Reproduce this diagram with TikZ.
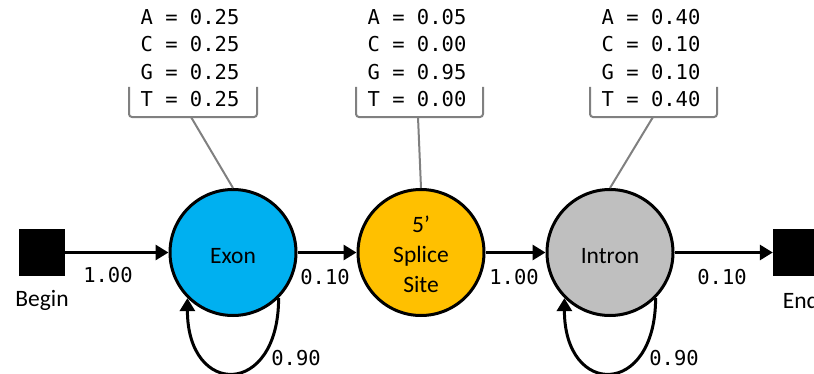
\documentclass[tikz,border=0pt]{standalone}
\usepackage{fontspec}
\setmainfont{Carlito}
\newfontfamily\mono{DejaVu Sans Mono}
\usetikzlibrary{arrows.meta}
\definecolor{exblue}{HTML}{00B0F0}
\definecolor{spyellow}{HTML}{FFC000}
\definecolor{ingray}{HTML}{BFBFBF}
\definecolor{lngray}{HTML}{808080}
\newcommand{\lowtext}[1]{\raisebox{-3.5pt}[\height][\depth]{#1}}
\tikzset{
  state/.style={circle,draw=black,line width=3pt,minimum size=126pt,inner sep=0pt,
    font=\fontsize{23.5}{30}\selectfont},
  term/.style={fill=black,draw=none,minimum width=46pt,minimum height=47pt,inner sep=0pt},
  termlab/.style={font=\fontsize{23.5}{28}\selectfont,inner sep=0pt},
  trans/.style={line width=3pt,-{Triangle[length=13pt,width=15pt]}},
  prob/.style={font=\mono\fontsize{20.5}{24}\selectfont,inner sep=0pt},
  emit/.style={font=\mono\fontsize{20.5}{24}\selectfont,inner sep=0pt,anchor=base},
  bracket/.style={draw=lngray,line width=2pt,rounded corners=3pt},
  link/.style={draw=lngray,line width=2pt}
}
\begin{document}
\begin{tikzpicture}[x=1pt,y=1pt]
\useasboundingbox (0,0) rectangle (814,373);
\clip (0,0) rectangle (814,373);
% terminals
\node[term] (begin) at (42,120.5) {};
\node[termlab] (beginlab) at (42,73) {Begin};
\node[term] (end) at (796,120.5) {};
\node[termlab] (endlab) at (801,73) {End};
% states
\node[state,fill=exblue] (exon) at (233,120.5) {\lowtext{Exon}};
\node[state,fill=spyellow] (splice) at (421,120.5)
  {\lowtext{\begin{tabular}{@{}c@{}}5’\\Splice\\Site\end{tabular}}};
\node[state,fill=ingray] (intron) at (610,120.5) {\lowtext{Intron}};
% transitions
\draw[trans] (begin.east) -- (exon.west);
\draw[trans] (exon.east) -- (splice.west);
\draw[trans] (splice.east) -- (intron.west);
\draw[trans] (intron.east) -- (end.west);
\draw[trans] (exon.-45) to[out=-90,in=-90,looseness=2.8] (exon.-135);
\draw[trans] (intron.-45) to[out=-90,in=-90,looseness=2.8] (intron.-135);
% transition probabilities
\node[prob] (p1) at (108,98) {1.00};
\node[prob] (p2) at (325,96) {0.10};
\node[prob] (p3) at (514,96) {1.00};
\node[prob] (p4) at (722,96) {0.10};
\node[prob] (p5) at (296,15) {0.90};
\node[prob] (p6) at (674,15) {0.90};
% emission tables
\node[emit] (exA) at (190,348.5) {A = 0.25};
\node[emit] (exC) at (190,321) {C = 0.25};
\node[emit] (exG) at (190,293.5) {G = 0.25};
\node[emit] (exT) at (190,266.5) {T = 0.25};
\node[emit] (spA) at (417,348.5) {A = 0.05};
\node[emit] (spC) at (417,321) {C = 0.00};
\node[emit] (spG) at (417,293.5) {G = 0.95};
\node[emit] (spT) at (417,266.5) {T = 0.00};
\node[emit] (inA) at (651,348.5) {A = 0.40};
\node[emit] (inC) at (651,321) {C = 0.10};
\node[emit] (inG) at (651,293.5) {G = 0.10};
\node[emit] (inT) at (651,266.5) {T = 0.40};
% brackets
\draw[bracket] (129,286) -- (129,256) -- (257,256) -- (257,286);
\draw[bracket] (356,286) -- (356,256) -- (483,256) -- (483,286);
\draw[bracket] (590,286) -- (590,256) -- (717,256) -- (717,286);
\coordinate (exb) at (191,256);
\coordinate (spb) at (418,256);
\coordinate (inb) at (653,256);
\draw[link] (exb) -- (exon.north);
\draw[link] (spb) -- (splice.north);
\draw[link] (inb) -- (intron.north);
\end{tikzpicture}
\end{document}
